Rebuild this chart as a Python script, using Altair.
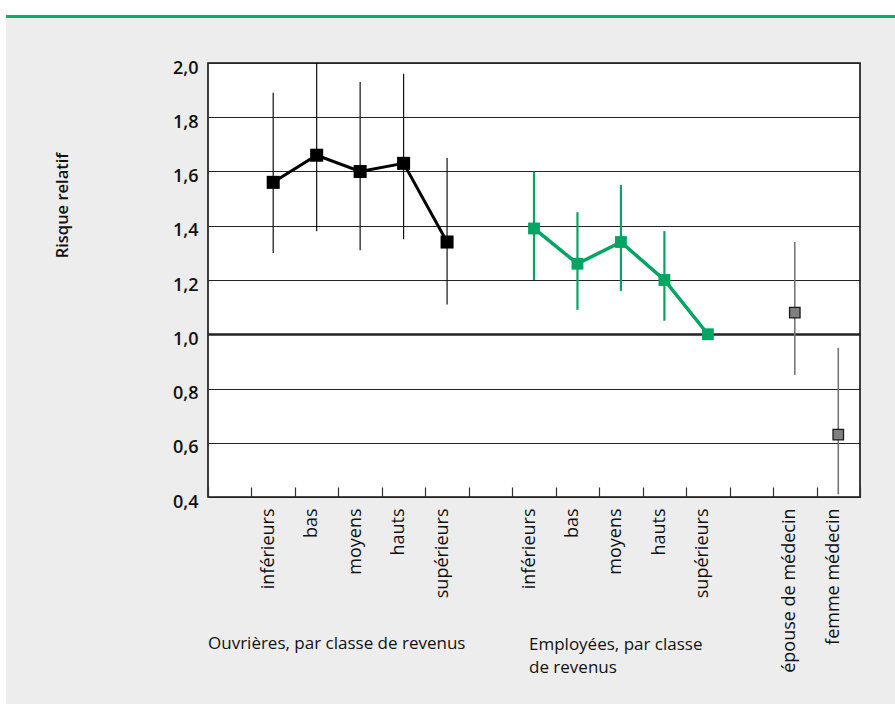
import altair as alt
import pandas as pd

# Relative risk by group, with 95% confidence limits
ouvr_labels = ["inférieurs", "bas", "moyens", "hauts", "supérieurs"]
ouvr_rr = [1.56, 1.66, 1.60, 1.63, 1.34]
ouvr_lo = [1.30, 1.38, 1.31, 1.35, 1.11]
ouvr_hi = [1.89, 2.00, 1.93, 1.96, 1.65]

empl_labels = ["inférieurs", "bas", "moyens", "hauts", "supérieurs"]
empl_rr = [1.39, 1.26, 1.34, 1.20, 1.00]
empl_lo = [1.20, 1.09, 1.16, 1.05, None]
empl_hi = [1.60, 1.45, 1.55, 1.38, None]

medic_labels = ["épouse de médecin", "femme médecin"]
medic_rr = [1.08, 0.63]
medic_lo = [0.85, 0.41]
medic_hi = [1.34, 0.95]

group_titles = ["Ouvrières, par classe de revenus", ["Employées, par classe", "de revenus"]]
y_title = "Risque relatif"
y_ticks = [0.4, 0.6, 0.8, 1.0, 1.2, 1.4, 1.6, 1.8, 2.0]

GREEN = "#00a661"
INK = "#111111"
FONT = "Open Sans"


def rows(group, labels, rr, lo, hi):
    return [
        {"key": f"{group}|{lab}", "group": group, "idx": i, "rr": r, "lo": l, "hi": h}
        for i, (lab, r, l, h) in enumerate(zip(labels, rr, lo, hi))
    ]


records = (
    rows("O", ouvr_labels, ouvr_rr, ouvr_lo, ouvr_hi)
    + rows("E", empl_labels, empl_rr, empl_lo, empl_hi)
    + rows("X", medic_labels, medic_rr, medic_lo, medic_hi)
)
df = pd.DataFrame(records)

# Band layout: an empty band before each group keeps the groups apart
domain = (
    ["start|"]
    + [f"O|{l}" for l in ouvr_labels]
    + ["gap1|"]
    + [f"E|{l}" for l in empl_labels]
    + ["gap2|"]
    + [f"X|{l}" for l in medic_labels]
)

x_scale = alt.Scale(domain=domain, paddingInner=0, paddingOuter=0)
y_scale = alt.Scale(domain=[0.4, 2.0], nice=False, zero=False)

x_axis = alt.Axis(
    title=None,
    labelExpr="split(datum.value, '|')[1]",
    labelAngle=270,
    labelAlign="right",
    labelBaseline="alphabetic",
    labelFontSize=18,
    labelFontWeight=500,
    labelColor=INK,
    labelPadding=11,
    tickBand="extent",
    tickSize=10,
    tickColor="#333333",
    tickWidth=1.2,
    offset=-10,
    domain=False,
    grid=False,
)

y_axis = alt.Axis(
    title=y_title,
    values=y_ticks,
    labelExpr="replace(format(datum.value, '.1f'), '.', ',')",
    labelFontSize=18,
    labelFontWeight=600,
    labelColor=INK,
    labelPadding=10,
    labelOffset=5,
    labelFlush=False,
    ticks=False,
    domain=False,
    grid=True,
    gridColor="#222222",
    gridWidth={"condition": {"test": "datum.value == 1", "value": 2.4}, "value": 1},
    titleFontSize=16.5,
    titleFontWeight=600,
    titleColor=INK,
    titleAngle=270,
    titleAlign="center",
    titleBaseline="alphabetic",
    titleX=-141,
    titleY=142,
)


def X():
    return alt.X("key:N", scale=x_scale, axis=x_axis)


def Y(field):
    return alt.Y(f"{field}:Q", scale=y_scale, axis=y_axis)


base = alt.Chart(df)

# Page furniture: white margin, green rule along the top
blank = alt.Data(values=[{}])
top_white = alt.Chart(blank).mark_rect(color="white").encode(
    x=alt.value(-208), x2=alt.value(687), y=alt.value(-63), y2=alt.value(-48)
)
left_white = alt.Chart(blank).mark_rect(color="white").encode(
    x=alt.value(-208), x2=alt.value(-202), y=alt.value(-63), y2=alt.value(641)
)
green_rule = alt.Chart(blank).mark_rect(color="#14a86a").encode(
    x=alt.value(-202), x2=alt.value(687), y=alt.value(-48), y2=alt.value(-45)
)


def ci(group, color, width):
    return (
        base.transform_filter(f"datum.group == '{group}' && isValid(datum.lo)")
        .mark_rule(color=color, strokeWidth=width)
        .encode(x=X(), y=Y("lo"), y2="hi:Q")
    )


def trend(group, color, width):
    return (
        base.transform_filter(f"datum.group == '{group}'")
        .mark_line(color=color, strokeWidth=width)
        .encode(x=X(), y=Y("rr"), order=alt.Order("idx:Q"))
    )


def squares(group, size, **style):
    return (
        base.transform_filter(f"datum.group == '{group}'")
        .mark_square(size=size, opacity=1, filled=True, **style)
        .encode(x=X(), y=Y("rr"))
    )


title_o = alt.Chart(blank).mark_text(
    align="left", baseline="alphabetic", fontSize=17, fontWeight=500, color=INK, font=FONT
).encode(x=alt.value(0), y=alt.value(586), text=alt.value(group_titles[0]))

title_e = alt.Chart(blank).mark_text(
    align="left", baseline="alphabetic", fontSize=17, fontWeight=500, color=INK, font=FONT,
    lineHeight=23,
).encode(x=alt.value(321), y=alt.value(587), text=alt.value(group_titles[1]))

chart = (
    alt.layer(
        top_white,
        left_white,
        green_rule,
        ci("O", "#111111", 1.2),
        ci("E", GREEN, 2.2),
        ci("X", "#777777", 1.6),
        trend("O", "#000000", 3),
        trend("E", GREEN, 3.5),
        squares("O", 170, color="#000000"),
        squares("E", 140, color=GREEN),
        squares("X", 110, color="#808080", stroke="#1a1a1a", strokeWidth=1.3),
        title_o,
        title_e,
    )
    .properties(
        width=652,
        height=434,
        autosize=alt.AutoSizeParams(type="none"),
        padding={"left": 208, "top": 63, "right": 35, "bottom": 207},
        background="#ededed",
    )
    .configure(font=FONT)
    .configure_view(fill="white", stroke=INK, strokeWidth=1.6)
)

chart.save("out.html", embed_options={"renderer": "svg", "actions": False})
